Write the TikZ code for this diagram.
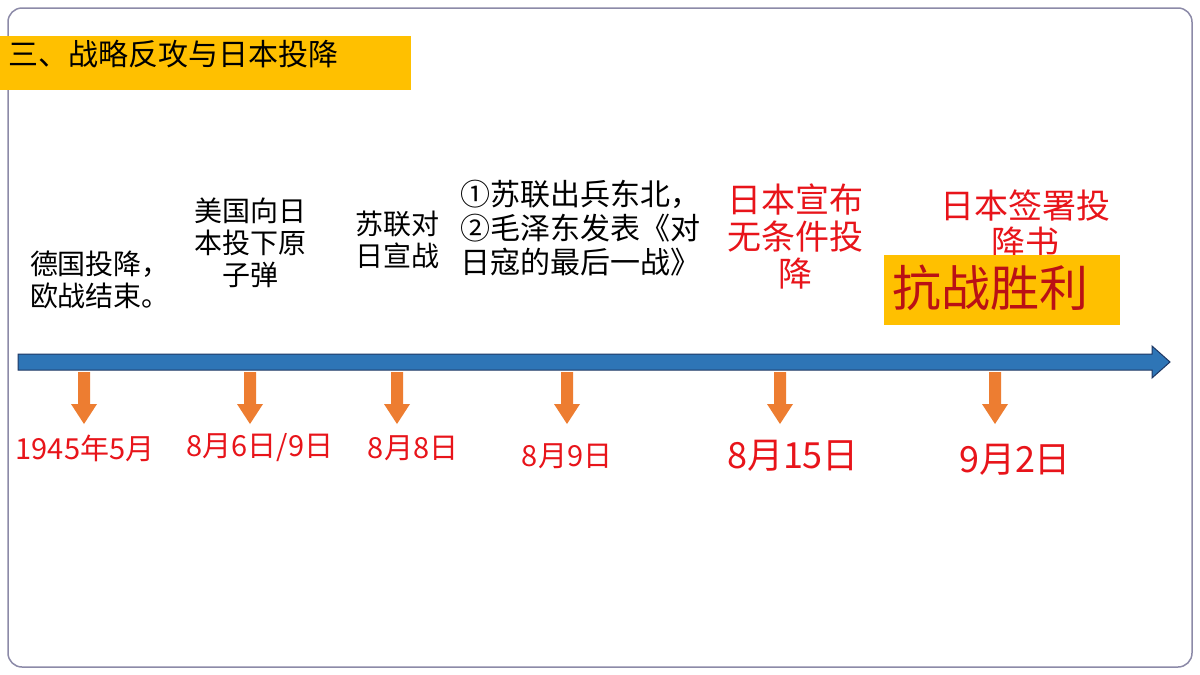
\documentclass[tikz,border=0pt]{standalone}
\usepackage{fontspec}
\setmainfont{Noto Sans CJK SC}
\usetikzlibrary{arrows.meta}
\definecolor{tblue}{HTML}{2E75B6}
\definecolor{tline}{HTML}{1F3864}
\definecolor{torange}{HTML}{ED7D31}
\definecolor{tyellow}{HTML}{FFC000}
\definecolor{tframe}{HTML}{8C8AA8}
\definecolor{tred}{HTML}{E8141A}
\tikzset{
  event/.style={align=center,font=\fontsize{28}{32}\selectfont,inner sep=0pt},
  redevent/.style={event,text=tred,font=\fontsize{34}{37}\selectfont},
  datelab/.style={text=tred,inner sep=0pt,font=\fontsize{29}{33}\selectfont},
  bigdate/.style={datelab,font=\fontsize{36}{40}\selectfont}
}
\begin{document}
\begin{tikzpicture}[x=1pt,y=-1pt]
 \useasboundingbox (0,0) rectangle (1200,675);
 \fill[white] (0,0) rectangle (1200,675);
 \draw[tframe,line width=1.5pt,rounded corners=14pt] (8,8) rectangle (1192,667);
 % title
 \fill[tyellow] (0,36) rectangle (411,90);
 \node[anchor=west,inner sep=0pt,font=\fontsize{30}{34}\selectfont] (title) at (8,54) {三、战略反攻与日本投降};
 % timeline
 \draw[tline,line width=1pt,fill=tblue] (18,354) -- (1152,354) -- (1152,346) -- (1170,362)
   -- (1152,378) -- (1152,370) -- (18,370) -- cycle;
 % pointers
 \foreach \x/\n in {84/a,250/b,397/c,567/d,780/e,995/f}{
   \coordinate (top\n) at (\x,372);
   \fill[torange] (\x-6,372) -- (\x+6,372) -- (\x+6,404) -- (\x+13,404) -- (\x,424)
     -- (\x-13,404) -- (\x-6,404) -- cycle;
 }
 % dates
 \node[datelab] (da) at (85,448) {1945年5月};
 \node[datelab] (db) at (260,448) {8月6日/9日};
 \node[datelab] (dc) at (413,448) {8月8日};
 \node[datelab] (dd) at (567,456) {8月9日};
 \node[bigdate] (de) at (793,456) {8月15日};
 \node[bigdate] (df) at (1015,460) {9月2日};
 % events
 \node[event] (ea) at (100,280) {德国投降，\\欧战结束。};
 \node[event] (eb) at (250,243) {美国向日\\本投下原\\子弹};
 \node[event] (ec) at (397,240) {苏联对\\日宣战};
 \node[event,align=left,anchor=north west,font=\fontsize{30}{34}\selectfont] (ed) at (460,180) {①苏联出兵东北，\\②毛泽东发表《对\\日寇的最后一战》};
 \node[redevent] (ee) at (795,236) {日本宣布\\无条件投\\降};
 \node[redevent] (ef) at (1025,224) {日本签署投\\降书};
 \fill[tyellow] (884,255) rectangle (1120,325);
 \node[anchor=west,inner sep=0pt,text=tred!80!black,font=\fontsize{49}{53}\selectfont] (win) at (892,288) {抗战胜利};
\end{tikzpicture}
\end{document}
